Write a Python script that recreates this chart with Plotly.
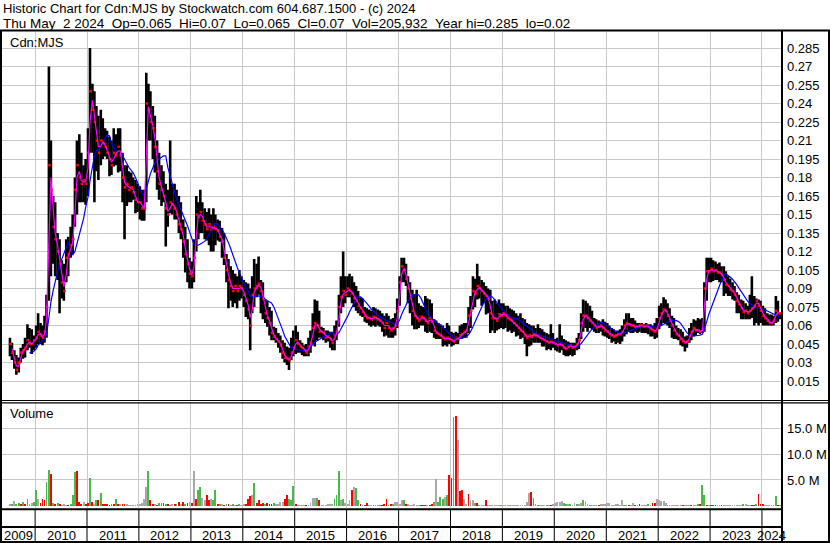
import pandas as pd
import plotly.graph_objects as go

# ---------------- text ----------------
TITLE_LINE1 = "Historic Chart for Cdn:MJS by Stockwatch.com 604.687.1500 - (c) 2024"
TITLE_LINE2 = "Thu May  2 2024  Op=0.065  Hi=0.07  Lo=0.065  Cl=0.07  Vol=205,932  Year hi=0.285  lo=0.02"
SYMBOL = "Cdn:MJS"
VOLUME_LABEL = "Volume"

# ---------------- data (semi-monthly periods, starting Jul 2009) ----------------
FIRST_PERIOD = "2009-07-01"
X_RANGE = ["2009-05-13", "2024-05-21"]

HIGH = [
    .050, .046, .040, .036, .034, .042, .045, .050, .061, .058, .057, .052,  # 2009 H2
    .060, .070, .062, .060, .068, .085, .270, .210, .165, .160, .135, .130, .113, .110, .130, .132, .140, .150, .180, .210, .215, .200, .190, .195,  # 2010
    .220, .285, .256, .250, .238, .230, .235, .228, .220, .218, .213, .210, .220, .215, .220, .220, .200, .190, .190, .185, .184, .180, .178, .175,  # 2011
    .173, .170, .170, .265, .256, .250, .238, .230, .210, .200, .190, .185, .175, .170, .210, .175, .175, .170, .165, .160, .146, .140, .130, .115,  # 2012
    .112, .130, .165, .160, .170, .160, .155, .152, .155, .150, .155, .150, .146, .145, .139, .135, .118, .114, .108, .105, .102, .100, .105, .100,  # 2013
    .097, .095, .094, .090, .100, .114, .110, .116, .097, .095, .081, .080, .075, .072, .059, .058, .054, .052, .048, .046, .043, .042, .050, .056,  # 2014
    .060, .055, .048, .046, .044, .045, .050, .056, .070, .081, .080, .072, .059, .058, .056, .056, .055, .055, .060, .064, .085, .100, .120, .100,  # 2015
    .100, .102, .100, .095, .092, .088, .083, .082, .075, .074, .073, .072, .075, .074, .073, .072, .070, .068, .070, .068, .065, .066, .070, .082,  # 2016
    .100, .115, .115, .110, .100, .095, .089, .085, .089, .078, .076, .075, .084, .082, .081, .078, .065, .064, .062, .061, .060, .058, .062, .060,  # 2017
    .055, .054, .055, .054, .060, .061, .062, .062, .075, .084, .100, .098, .110, .100, .097, .095, .092, .090, .089, .080, .081, .078, .081, .078,  # 2018
    .078, .076, .076, .074, .073, .072, .070, .068, .070, .066, .065, .062, .061, .060, .060, .058, .061, .058, .057, .055, .054, .053, .061, .054,  # 2019
    .049, .050, .061, .052, .049, .048, .047, .046, .046, .046, .050, .054, .070, .081, .080, .078, .076, .072, .066, .065, .064, .063, .065, .063,  # 2020
    .062, .060, .058, .057, .055, .056, .057, .060, .065, .070, .070, .066, .066, .064, .062, .062, .062, .061, .062, .061, .061, .060, .062, .066,  # 2021
    .076, .078, .083, .081, .078, .074, .068, .066, .060, .058, .057, .055, .051, .052, .058, .062, .065, .064, .066, .065, .066, .095, .115, .115,  # 2022
    .115, .113, .112, .110, .111, .108, .108, .104, .100, .098, .095, .092, .087, .085, .081, .080, .078, .076, .085, .100, .084, .082, .081, .080,  # 2023
    .076, .074, .070, .069, .069, .068, .084, .080, .070,  # 2024
]

LOW = [
    .035, .032, .025, .020, .022, .030, .033, .034, .040, .042, .037, .040,  # 2009 H2
    .042, .045, .045, .044, .046, .050, .080, .100, .110, .100, .097, .070, .082, .080, .095, .100, .115, .118, .140, .150, .160, .160, .160, .158,  # 2010
    .165, .200, .200, .160, .185, .178, .190, .195, .197, .195, .181, .182, .189, .190, .184, .185, .160, .130, .157, .160, .160, .162, .151, .152,  # 2011
    .146, .145, .145, .160, .210, .210, .195, .184, .170, .162, .157, .160, .124, .140, .151, .150, .146, .146, .135, .130, .115, .103, .095, .090,  # 2012
    .090, .095, .120, .130, .135, .135, .130, .129, .125, .120, .120, .125, .129, .128, .115, .109, .095, .074, .080, .075, .078, .074, .080, .082,  # 2013
    .075, .067, .065, .040, .070, .075, .083, .085, .070, .065, .062, .059, .052, .048, .048, .046, .042, .038, .033, .030, .028, .024, .032, .035,  # 2014
    .037, .038, .038, .036, .035, .035, .035, .038, .045, .043, .048, .050, .050, .048, .046, .047, .042, .040, .040, .048, .059, .070, .075, .078,  # 2015
    .083, .083, .078, .075, .072, .070, .068, .067, .063, .062, .060, .059, .060, .059, .060, .059, .055, .051, .052, .050, .050, .050, .052, .058,  # 2016
    .076, .095, .095, .092, .078, .070, .060, .057, .057, .058, .060, .060, .055, .054, .055, .054, .050, .049, .049, .049, .043, .044, .043, .045,  # 2017
    .043, .044, .045, .045, .049, .049, .050, .050, .054, .058, .073, .075, .081, .082, .076, .078, .069, .070, .054, .056, .054, .056, .057, .058,  # 2018
    .057, .058, .055, .056, .054, .055, .051, .052, .049, .050, .045, .035, .043, .044, .046, .046, .046, .046, .043, .043, .040, .041, .040, .042,  # 2019
    .040, .039, .038, .040, .036, .035, .035, .036, .035, .036, .040, .041, .049, .055, .058, .055, .058, .057, .055, .054, .054, .055, .052, .051,  # 2020
    .050, .049, .046, .047, .045, .046, .045, .047, .051, .053, .055, .054, .054, .055, .054, .055, .054, .054, .054, .053, .051, .051, .049, .050,  # 2021
    .057, .060, .062, .061, .060, .058, .050, .049, .049, .048, .044, .043, .039, .042, .046, .048, .051, .052, .054, .053, .054, .055, .080, .095,  # 2022
    .095, .096, .097, .097, .095, .095, .084, .086, .084, .084, .081, .080, .070, .070, .065, .065, .065, .065, .065, .066, .060, .062, .060, .062,  # 2023
    .060, .060, .060, .060, .060, .060, .062, .063, .065,  # 2024
]

CLOSE = [
    .045, .038, .030, .024, .030, .038, .040, .042, .048, .045, .045, .048,  # 2009 H2
    .050, .055, .052, .050, .055, .075, .190, .170, .140, .130, .120, .110, .095, .088, .115, .118, .125, .130, .170, .190, .180, .175, .178, .175,  # 2010
    .200, .250, .235, .225, .210, .200, .210, .208, .205, .200, .195, .190, .200, .198, .205, .198, .180, .172, .175, .170, .172, .168, .162, .160,  # 2011
    .160, .155, .155, .240, .235, .225, .220, .205, .185, .175, .170, .165, .155, .150, .160, .158, .155, .150, .142, .138, .128, .118, .110, .102,  # 2012
    .100, .115, .150, .148, .152, .145, .142, .138, .142, .138, .140, .138, .137, .132, .128, .115, .105, .097, .092, .088, .092, .088, .092, .090,  # 2013
    .085, .080, .073, .060, .085, .090, .092, .094, .088, .082, .070, .066, .062, .054, .051, .049, .047, .044, .038, .034, .033, .032, .038, .042,  # 2014
    .048, .045, .043, .042, .040, .038, .043, .046, .058, .062, .060, .055, .055, .054, .050, .051, .049, .046, .052, .055, .075, .083, .088, .085,  # 2015
    .090, .088, .086, .082, .080, .076, .074, .071, .068, .066, .066, .065, .067, .066, .065, .064, .062, .058, .062, .058, .056, .058, .060, .072,  # 2016
    .095, .108, .105, .098, .090, .082, .072, .068, .066, .064, .067, .066, .064, .062, .066, .063, .056, .054, .053, .052, .050, .049, .050, .049,  # 2017
    .048, .047, .050, .049, .052, .053, .055, .056, .068, .072, .088, .086, .092, .090, .088, .086, .084, .082, .070, .066, .066, .064, .069, .068,  # 2018
    .070, .068, .066, .065, .064, .062, .060, .058, .056, .055, .052, .050, .052, .051, .053, .052, .051, .050, .049, .048, .047, .046, .047, .046,  # 2019
    .045, .044, .045, .044, .042, .041, .043, .044, .042, .043, .045, .048, .062, .068, .068, .066, .064, .062, .060, .058, .059, .060, .058, .056,  # 2020
    .055, .053, .052, .051, .052, .053, .053, .055, .060, .062, .061, .060, .060, .059, .059, .060, .060, .059, .060, .059, .057, .056, .055, .058,  # 2021
    .066, .070, .073, .072, .068, .064, .060, .056, .053, .052, .049, .047, .046, .047, .052, .055, .058, .056, .056, .055, .057, .090, .104, .104,  # 2022
    .106, .104, .105, .103, .103, .101, .097, .093, .092, .089, .088, .085, .080, .077, .074, .071, .072, .070, .072, .074, .076, .080, .076, .072,  # 2023
    .068, .066, .064, .062, .062, .064, .072, .070, .070,  # 2024
]

# volume in millions of shares (peak seen in each period)
VOLUME_M = [
    0.3, 0.3, 1.0, 0.4, 0.6, 0.4, 0.8, 0.45, 1.4, 0.45, 0.6, 0.8,  # 2009 H2
    3.0, 1.4, 0.6, 1.4, 1.2, 4.6, 7.0, 6.1, 0.6, 0.3, 0.5, 0.3, 0.2, 0.3, 0.25, 0.2, 0.3, 2.0, 6.5, 6.8, 0.8, 0.45, 0.8, 0.45,  # 2010
    0.6, 5.3, 0.8, 0.45, 1.1, 1.1, 2.5, 0.45, 0.3, 0.3, 0.25, 0.3, 0.4, 1.3, 0.45, 0.4, 0.3, 0.45, 0.4, 0.2, 0.25, 0.25, 0.2, 0.4,  # 2011
    0.3, 0.6, 1.4, 3.7, 6.7, 1.1, 0.45, 0.3, 0.2, 0.6, 0.55, 0.6, 0.45, 0.3, 0.2, 0.4, 0.3, 0.4, 0.8, 0.45, 0.8, 0.45, 0.6, 0.8,  # 2012
    0.6, 6.8, 1.4, 3.0, 3.7, 1.5, 1.1, 2.1, 1.1, 1.4, 1.1, 3.0, 0.3, 0.3, 0.3, 0.25, 0.3, 0.3, 0.25, 0.3, 0.2, 0.25, 0.4, 0.2,  # 2013
    0.3, 0.4, 1.3, 1.9, 2.1, 4.5, 0.6, 1.1, 0.45, 0.6, 0.45, 0.5, 0.3, 0.4, 0.6, 0.4, 0.3, 0.7, 0.7, 1.4, 2.0, 1.4, 1.1, 3.9,  # 2014
    0.4, 0.2, 0.25, 0.15, 0.2, 0.2, 0.15, 0.6, 1.5, 1.6, 1.6, 1.1, 0.2, 0.25, 0.2, 0.45, 0.45, 0.45, 1.4, 2.0, 6.8, 1.1, 1.4, 0.6,  # 2015
    0.3, 1.1, 3.1, 3.7, 3.4, 1.1, 0.3, 0.2, 0.2, 0.6, 0.2, 0.15, 0.2, 0.25, 0.2, 0.25, 0.2, 0.3, 1.4, 0.25, 0.3, 0.4, 0.8, 0.8,  # 2016
    0.45, 1.2, 1.1, 0.3, 0.45, 0.25, 0.2, 0.4, 0.2, 0.15, 0.25, 0.2, 0.25, 0.15, 0.2, 0.45, 0.75, 5.1, 0.75, 1.7, 1.4, 1.7, 2.0, 6.0,  # 2017
    5.4, 17.2, 17.3, 12.8, 2.9, 3.1, 1.4, 0.45, 2.2, 1.2, 1.2, 0.6, 0.55, 0.25, 0.25, 0.15, 1.2, 0.15, 0.15, 0.15, 0.15, 0.15, 0.15, 0.25,  # 2018
    0.15, 0.15, 0.15, 0.15, 0.15, 0.15, 0.15, 0.15, 0.15, 0.2, 0.25, 0.75, 2.4, 2.7, 1.6, 0.45, 0.25, 0.2, 0.15, 0.2, 0.25, 0.2, 0.25, 0.3,  # 2019
    0.6, 0.75, 0.75, 0.9, 0.6, 0.45, 0.3, 0.45, 0.25, 0.6, 0.45, 0.45, 0.5, 1.2, 0.9, 0.3, 0.25, 0.15, 0.2, 0.25, 0.25, 0.45, 0.3, 0.45,  # 2020
    0.6, 0.6, 0.25, 0.2, 0.45, 0.3, 0.25, 1.2, 0.25, 0.2, 0.25, 0.2, 0.6, 0.25, 0.2, 0.45, 0.2, 0.25, 0.2, 0.45, 0.2, 0.6, 0.55, 1.4,  # 2021
    1.2, 1.0, 1.0, 0.6, 0.25, 0.2, 0.25, 0.15, 0.2, 0.15, 0.2, 0.25, 0.15, 0.15, 0.2, 0.15, 0.2, 0.25, 0.45, 0.45, 4.1, 2.0, 0.15, 0.15,  # 2022
    0.15, 0.15, 0.15, 0.1, 0.1, 0.25, 0.15, 0.15, 0.1, 0.1, 0.15, 0.1, 0.1, 0.15, 0.2, 0.45, 0.45, 0.25, 0.2, 0.25, 0.25, 0.45, 2.3, 0.45,  # 2023
    0.45, 0.15, 0.15, 0.15, 0.15, 0.2, 1.9, 0.25, 0.206,  # 2024
]

# g = closed up, r = closed down, n = unchanged
VOLUME_DIR = (
    "ngnggrgrgnng"
    "gnrrrggrgrgrnnnrgggrrrnr"
    "rgrngrgrrrrgrgrnrrnnnnnn"
    "nnnngrrnrggrgrgnrgrnrgrn"
    "rnrggnnrrnggrgnrgrngnrgn"
    "nrrrngrrrrgrrrgnnnnrrggg"
    "rnnnnrnnnngrnnnnnngggngn"
    "nnrnggrnrrnnggngrrrgrgnn"
    "nngrnnnnnnrrrnrrgngggngr"
    "rgrnrrnnrnngrnnnrnnnnnng"
    "nnnnnnnnnnnnnrgngnnngnrn"
    "nnnnggngnngnngnngnnnrnnn"
    "nnnnnnnngnrnnrnrnnngnrrn"
    "nnnngnnnnnnrnnnrnngrggrn"
    "rrrnnrnnnnnnnnngngnrrgrr"
    "rnnnnngrg"
)

PRICE_TICKS = [0.015, 0.03, 0.045, 0.06, 0.075, 0.09, 0.105, 0.12, 0.135, 0.15,
               0.165, 0.18, 0.195, 0.21, 0.225, 0.24, 0.255, 0.27, 0.285]
PRICE_TICK_TEXT = ["0.015", "0.03", "0.045", "0.06", "0.075", "0.09", "0.105", "0.12", "0.135", "0.15",
                   "0.165", "0.18", "0.195", "0.21", "0.225", "0.24", "0.255", "0.27", "0.285"]
VOL_TICKS = [5e6, 10e6, 15e6]
VOL_TICK_TEXT = ["5.0 M", "10.0 M", "15.0 M"]
YEARS = list(range(2009, 2025))

n = len(CLOSE)
assert len(HIGH) == n and len(LOW) == n, (len(HIGH), len(LOW), n)
assert len(VOLUME_M) == n and len(VOLUME_DIR) == n, (len(VOLUME_M), len(VOLUME_DIR), n)

# ---------------- derived ----------------
dates = pd.date_range(FIRST_PERIOD, periods=n, freq="SMS") + pd.Timedelta(days=7)
close_s = pd.Series(CLOSE)
ma_fast = close_s.rolling(2).mean()
ma_slow = close_s.rolling(10).mean()

seg_x, seg_y = [], []
for d, h, l in zip(dates, HIGH, LOW):
    seg_x += [d, d, None]
    seg_y += [l, h, None]

DIR_COLORS = {"g": "#4cb84c", "r": "#ff0000", "n": "#a8a8a8"}
vol_colors = [DIR_COLORS[c] for c in VOLUME_DIR]

FONT = "Arial, 'Liberation Sans', sans-serif"
GRID = "#c8c8c8"

fig = go.Figure()
fig.add_trace(go.Scatter(x=seg_x, y=seg_y, mode="lines", line=dict(color="black", width=2.6),
                         xaxis="x", yaxis="y", hoverinfo="skip", showlegend=False))
fig.add_trace(go.Scatter(x=dates + pd.Timedelta(days=4), y=CLOSE, mode="markers",
                         marker=dict(symbol="square", size=2.6, color="#ff0000", line=dict(width=0)),
                         xaxis="x", yaxis="y", showlegend=False))
fig.add_trace(go.Scatter(x=dates, y=ma_slow, mode="lines", line=dict(color="#0000ff", width=1.2),
                         xaxis="x", yaxis="y", showlegend=False))
fig.add_trace(go.Scatter(x=dates, y=ma_fast, mode="lines", line=dict(color="#ff00ff", width=1.2),
                         xaxis="x", yaxis="y", showlegend=False))
fig.add_trace(go.Bar(x=dates, y=[v * 1e6 for v in VOLUME_M], marker=dict(color=vol_colors, line=dict(width=0)),
                     width=13 * 86400000, xaxis="x2", yaxis="y2", showlegend=False))

W, H = 830, 543
ML, MR, MT, MB = 2, 48, 32, 35
PW, PH = W - ML - MR, H - MT - MB


def px(xp):
    return (xp - ML) / PW


def py(yp):
    return (H - MB - yp) / PH


xaxis_common = dict(type="date", range=X_RANGE, showgrid=True, gridcolor=GRID, gridwidth=1,
                    tick0="2009-01-01", dtick="M12", showticklabels=False, ticks="",
                    showline=False, zeroline=False)

fig.update_layout(
    width=W, height=H, margin=dict(l=ML, r=MR, t=MT, b=MB, pad=0),
    paper_bgcolor="white", plot_bgcolor="white",
    font=dict(family=FONT, size=13, color="black"),
    bargap=0, showlegend=False, hovermode=False,
    xaxis=dict(domain=[0, 1], anchor="y", **xaxis_common),
    xaxis2=dict(domain=[0, 1], anchor="y2", matches="x", **xaxis_common),
    yaxis=dict(domain=[py(400.5), 1], range=[-0.0008, 0.298], side="right", anchor="x",
               tickvals=PRICE_TICKS, ticktext=PRICE_TICK_TEXT, showgrid=True, gridcolor=GRID,
               ticks="", zeroline=False, showline=False, ticklabelstandoff=4,
               tickfont=dict(family=FONT, size=13, color="black")),
    yaxis2=dict(domain=[0, py(402)], range=[-0.42e6, 20.09e6], side="right", anchor="x2",
                tickvals=VOL_TICKS, ticktext=VOL_TICK_TEXT, showgrid=True, gridcolor=GRID,
                ticks="", zeroline=False, showline=False, ticklabelstandoff=4,
                tickfont=dict(family=FONT, size=13, color="black")),
)

ann = []


def nb(s):
    return s.replace("  ", " \u00a0")


ann.append(dict(text=nb(TITLE_LINE1), xref="paper", yref="paper", x=px(1), y=py(8.5),
                xanchor="left", yanchor="middle", showarrow=False, font=dict(size=13)))
ann.append(dict(text=nb(TITLE_LINE2), xref="paper", yref="paper", x=px(1), y=py(23.5),
                xanchor="left", yanchor="middle", showarrow=False, font=dict(size=13.5)))
ann.append(dict(text=SYMBOL, xref="paper", yref="paper", x=px(8), y=py(42),
                xanchor="left", yanchor="middle", showarrow=False, font=dict(size=13)))
ann.append(dict(text=VOLUME_LABEL, xref="paper", yref="paper", x=px(8), y=py(413),
                xanchor="left", yanchor="middle", showarrow=False, font=dict(size=13)))

x0 = pd.Timestamp(X_RANGE[0])
x1 = pd.Timestamp(X_RANGE[1])
for yr in YEARS:
    a = max(pd.Timestamp(f"{yr}-01-01"), x0)
    b = min(pd.Timestamp(f"{yr + 1}-01-01"), x1)
    mid = a + (b - a) / 2
    ann.append(dict(text=str(yr), xref="x", yref="paper", x=mid, y=py(535),
                    xanchor="center", yanchor="middle", showarrow=False, font=dict(size=13)))

shapes = []


def hline(yp, xa, xb, w=2):
    shapes.append(dict(type="line", xref="paper", yref="paper", x0=px(xa), x1=px(xb),
                       y0=py(yp), y1=py(yp), line=dict(color="black", width=w)))


def vline(xp, ya, yb, w=2):
    shapes.append(dict(type="line", xref="paper", yref="paper", x0=px(xp), x1=px(xp),
                       y0=py(ya), y1=py(yb), line=dict(color="black", width=w)))


hline(30.5, 0, 830)
hline(400.5, 0, 830, 1.2)
hline(402.8, 0, 830, 1.2)
hline(509.2, 0, 782)
hline(527, 0, 782)
hline(542, 0, 830)
vline(1, 30, 543)
vline(782, 30, 543)
vline(829, 30, 543)

for yr in YEARS[1:]:
    shapes.append(dict(type="line", xref="x", yref="paper", x0=f"{yr}-01-01", x1=f"{yr}-01-01",
                       y0=py(509), y1=py(542), line=dict(color="black", width=1)))

fig.update_layout(annotations=ann, shapes=shapes)
fig.write_html("out.html",
               config={"displayModeBar": False, "staticPlot": True},
               post_script="document.body.style.margin='0';document.body.style.padding='0';"
                           "document.body.style.overflow='hidden';")
